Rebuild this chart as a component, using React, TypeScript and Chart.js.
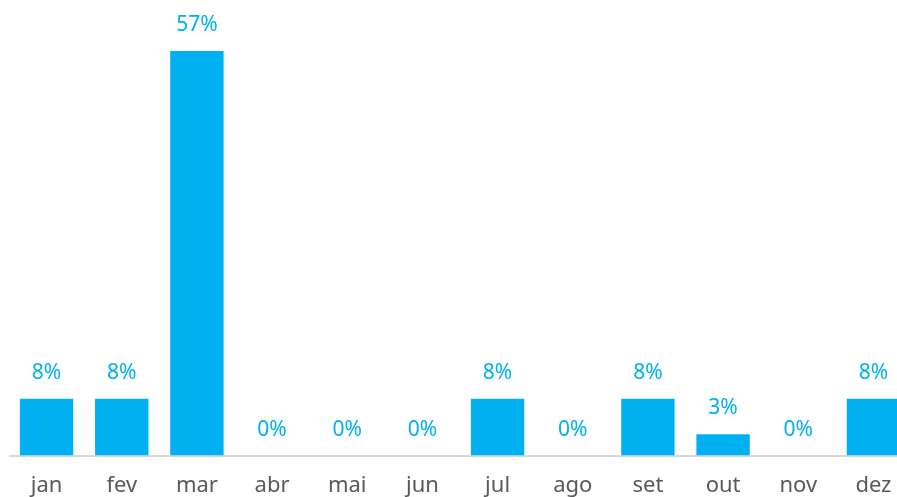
import React, { useEffect, useRef } from "react";
import { Chart, registerables } from "chart.js";

Chart.register(...registerables);

const months = ["jan", "fev", "mar", "abr", "mai", "jun", "jul", "ago", "set", "out", "nov", "dez"];
const shares = [8, 8, 57, 0, 0, 0, 8, 0, 8, 3, 0, 8];

const BAR_COLOR = "#00B0F0";
const FONT = "'Noto Sans', sans-serif";

const valueLabels = {
  id: "valueLabels",
  afterDatasetsDraw(chart: any) {
    const ctx = chart.ctx;
    const meta = chart.getDatasetMeta(0);
    ctx.save();
    ctx.fillStyle = BAR_COLOR;
    ctx.font = `21px ${FONT}`;
    ctx.textAlign = "center";
    ctx.textBaseline = "middle";
    meta.data.forEach((bar: any, i: number) => {
      ctx.fillText(`${shares[i]}%`, bar.x, bar.y - 26);
    });
    ctx.restore();
  },
};

export default function App() {
  const ref = useRef<HTMLCanvasElement | null>(null);
  useEffect(() => {
    if (!ref.current) return;
    const chart = new Chart(ref.current, {
      type: "bar",
      data: {
        labels: months,
        datasets: [
          {
            data: shares,
            backgroundColor: BAR_COLOR,
            categoryPercentage: 1,
            barPercentage: 0.71,
          },
        ],
      },
      options: {
        responsive: false,
        animation: false,
        layout: { padding: { top: 43, left: 0, right: 0, bottom: 0 } },
        plugins: { legend: { display: false }, tooltip: { enabled: false } },
        scales: {
          x: {
            grid: { display: false, drawTicks: false },
            border: { color: "#d9d9d9", width: 2 },
            ticks: { color: "#595959", font: { family: FONT, size: 22 }, padding: 17 },
          },
          y: {
            display: false,
            min: 0,
            max: 57,
          },
        },
      },
      plugins: [valueLabels],
    });
    return () => chart.destroy();
  }, []);
  return (
    <div
      style={{
        position: "fixed",
        left: 9,
        top: 8,
        width: 888,
        height: 489,
        overflow: "hidden",
      }}
    >
      <canvas ref={ref} width={902} height={508} style={{ display: "block" }} />
    </div>
  );
}
